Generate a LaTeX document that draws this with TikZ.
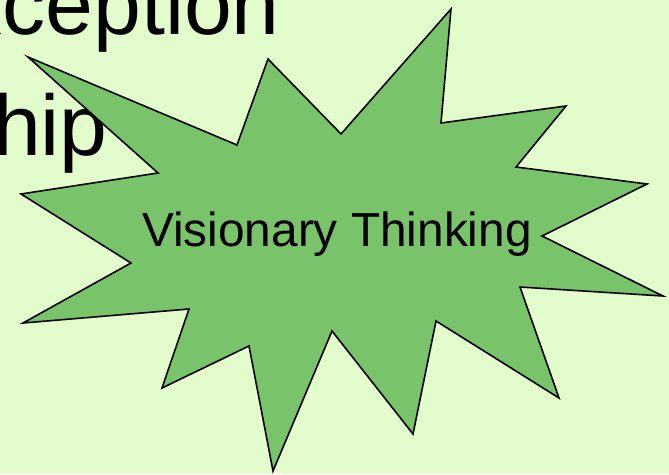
\documentclass[tikz,border=0pt]{standalone}
\usepackage{fontspec}
\setmainfont{Liberation Sans}
\definecolor{bgc}{RGB}{226,252,204}
\definecolor{starc}{RGB}{121,196,106}
\tikzset{
  bigtext/.style={font=\fontsize{86}{90}\selectfont, inner sep=0pt, text=black},
  burst/.style={draw=black, line width=1.6pt, fill=starc, line join=miter},
  label/.style={font=\fontsize{47.8}{50}\selectfont, inner sep=0pt, text=black}
}
\begin{document}
\begin{tikzpicture}[x=1pt,y=-1pt]
\useasboundingbox (0,0) rectangle (669,474);
\clip (0,0) rectangle (669,474);
\fill[bgc] (0,0) rectangle (669,474);
\node[bigtext, anchor=base east] (t1) at (280,34) {xception};
\node[bigtext, anchor=base east] (t2) at (108,155) {hip};
\draw[burst] (28,57) -- (237,145) -- (268,59) -- (341,134) -- (451,9) -- (441,123)
  -- (566,106) -- (516,167) -- (647,184) -- (542,236) -- (663,296) -- (520,287)
  -- (559,398) -- (436,321) -- (413,434) -- (332,331) -- (273,471) -- (249,346)
  -- (162,388) -- (189,309) -- (23,323) -- (131,263) -- (21,194) -- (158,173) -- cycle;
\node[label, anchor=base] (vt) at (337,246) {Visionary Thinking};
\end{tikzpicture}
\end{document}
